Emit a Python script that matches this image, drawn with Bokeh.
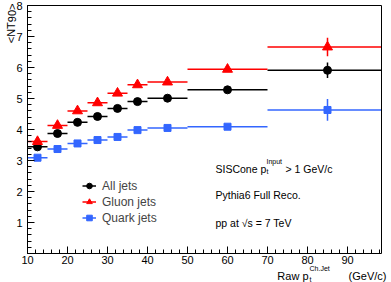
from bokeh.plotting import figure
from bokeh.models import FixedTicker, Label, Legend, LegendItem, ColumnDataSource, Range1d, LinearAxis
from bokeh.embed import file_html
from bokeh.resources import INLINE

# ---- data -------------------------------------------------------------
bin_lo = [10, 15, 20, 25, 30, 35, 40, 50, 70]
bin_hi = [15, 20, 25, 30, 35, 40, 50, 70, 100]
bin_center = [12.5, 17.5, 22.5, 27.5, 32.5, 37.5, 45, 60, 85]

all_jets = [3.44, 3.87, 4.23, 4.42, 4.68, 4.90, 5.01, 5.28, 5.91]
all_err = [0.02, 0.02, 0.02, 0.02, 0.02, 0.03, 0.03, 0.07, 0.25]
gluon_jets = [3.61, 4.13, 4.60, 4.86, 5.17, 5.44, 5.53, 5.94, 6.66]
gluon_err = [0.03, 0.03, 0.03, 0.03, 0.03, 0.04, 0.04, 0.08, 0.30]
quark_jets = [3.09, 3.37, 3.55, 3.66, 3.76, 3.98, 4.05, 4.09, 4.63]
quark_err = [0.03, 0.03, 0.03, 0.03, 0.03, 0.04, 0.04, 0.09, 0.35]

x_ticks = [10, 20, 30, 40, 50, 60, 70, 80, 90]
y_ticks = [0, 1, 2, 3, 4, 5, 6, 7, 8]

X_MIN, X_MAX = 10, 98.5   # visible axis box
Y_MIN, Y_MAX = 0, 8

FONT = "Liberation Sans"

# canvas geometry (pixels): axis box from (27, 5) to (381, 253)
W, H = 388, 282
BL, BR, BT, BB = 27, 381, 5, 253
sx = (X_MAX - X_MIN) / (BR - BL)
sy = (Y_MAX - Y_MIN) / (BB - BT)
x_start = X_MIN - BL * sx
x_end = X_MAX + (W - BR) * sx
y_end = Y_MAX + BT * sy
y_start = Y_MIN - (H - BB) * sy

p = figure(width=W, height=H, x_range=Range1d(x_start, x_end), y_range=Range1d(y_start, y_end),
           output_backend="svg", toolbar_location=None,
           min_border_left=0, min_border_right=0, min_border_top=0, min_border_bottom=0)
p.xgrid.visible = False
p.ygrid.visible = False
p.outline_line_color = None

xa = p.xaxis[0]
ya = p.yaxis[0]
xa.fixed_location = Y_MIN
xa.bounds = (X_MIN, X_MAX)
ya.fixed_location = X_MIN
ya.bounds = (Y_MIN, Y_MAX)
xa.ticker = FixedTicker(ticks=x_ticks, minor_ticks=[10 + 2 * i for i in range(45)])
ya.ticker = FixedTicker(ticks=y_ticks, minor_ticks=[0.2 * i for i in range(41)])
ya.major_label_overrides = {0: ""}
for ax in (xa, ya):
    ax.major_tick_in = 7
    ax.major_tick_out = 0
    ax.minor_tick_in = 4
    ax.minor_tick_out = 0
    ax.axis_line_color = "black"
    ax.major_tick_line_color = "black"
    ax.minor_tick_line_color = "black"
    ax.major_label_text_font = FONT
    ax.major_label_text_font_size = "11px"
    ax.major_label_text_color = "black"
xa.major_label_standoff = 2
ya.major_label_standoff = 5

# box lines on top and right
top_ax = LinearAxis(fixed_location=Y_MAX, bounds=(X_MIN, X_MAX), ticker=FixedTicker(ticks=[]),
                    major_tick_in=0, major_tick_out=0, minor_tick_in=0, minor_tick_out=0,
                    axis_line_color="black")
right_ax = LinearAxis(fixed_location=X_MAX, bounds=(Y_MIN, Y_MAX), ticker=FixedTicker(ticks=[]),
                      major_tick_in=0, major_tick_out=0, minor_tick_in=0, minor_tick_out=0,
                      axis_line_color="black")
p.add_layout(top_ax, "above")
p.add_layout(right_ax, "right")

series = [
    ("All jets", all_jets, all_err, "black", "circle", 8),
    ("Gluon jets", gluon_jets, gluon_err, "#ff0000", "triangle", 10),
    ("Quark jets", quark_jets, quark_err, "#3366ff", "square", 7),
]

items = []
for label, vals, errs, color, marker, size in series:
    src = ColumnDataSource(dict(
        x=bin_center, lo=bin_lo, hi=[min(h, X_MAX) for h in bin_hi], y=vals,
        ylo=[v - e for v, e in zip(vals, errs)],
        yhi=[v + e for v, e in zip(vals, errs)],
    ))
    hr = p.segment(x0="lo", x1="hi", y0="y", y1="y", source=src,
                   line_color=color, line_width=1.5)
    p.segment(x0="x", x1="x", y0="ylo", y1="yhi", source=src,
              line_color=color, line_width=1.5)
    sr = p.scatter(x="x", y="y", source=src, marker=marker, size=size,
                   fill_color=color, line_color=color)
    items.append(LegendItem(label=label, renderers=[hr, sr]))

legend = Legend(items=items, location=(82, H - 225), padding=0, margin=0, spacing=1,
                label_height=15, glyph_height=15, glyph_width=14, label_standoff=6,
                border_line_color=None, background_fill_alpha=0,
                label_text_font=FONT, label_text_font_size="12px")
p.add_layout(legend)


def lab(text, px, py, size, align="left", baseline="alphabetic", angle=0):
    p.add_layout(Label(x=x_start + px * sx, y=y_end - py * sy,
                       text=text, text_font=FONT,
                       text_font_size=size, text_align=align, text_baseline=baseline,
                       angle=angle, text_color="black"))


# annotation texts
lab("SISCone p", 215, 168, "10.5px")
lab("t", 266, 171, "7px")
lab("Input", 266, 161, "7px")
lab("> 1 GeV/c", 285, 168, "10.5px")
lab("Pythia6 Full Reco.", 215, 194, "10.5px")
lab("pp at \u221As = 7 TeV", 215, 222, "10.5px")

# x-axis title
lab("(GeV/c)", 386, 275, "11px", align="right")
lab("Ch.Jet", 309, 268, "7px")
lab("t", 309, 279, "7px")
lab("Raw p", 308, 275, "11px", align="right")

# y-axis title
lab("<NT90>", 11, 3, "11px", align="right", baseline="middle", angle=1.5707963)

open("out.html", "w").write(file_html(p, INLINE))
